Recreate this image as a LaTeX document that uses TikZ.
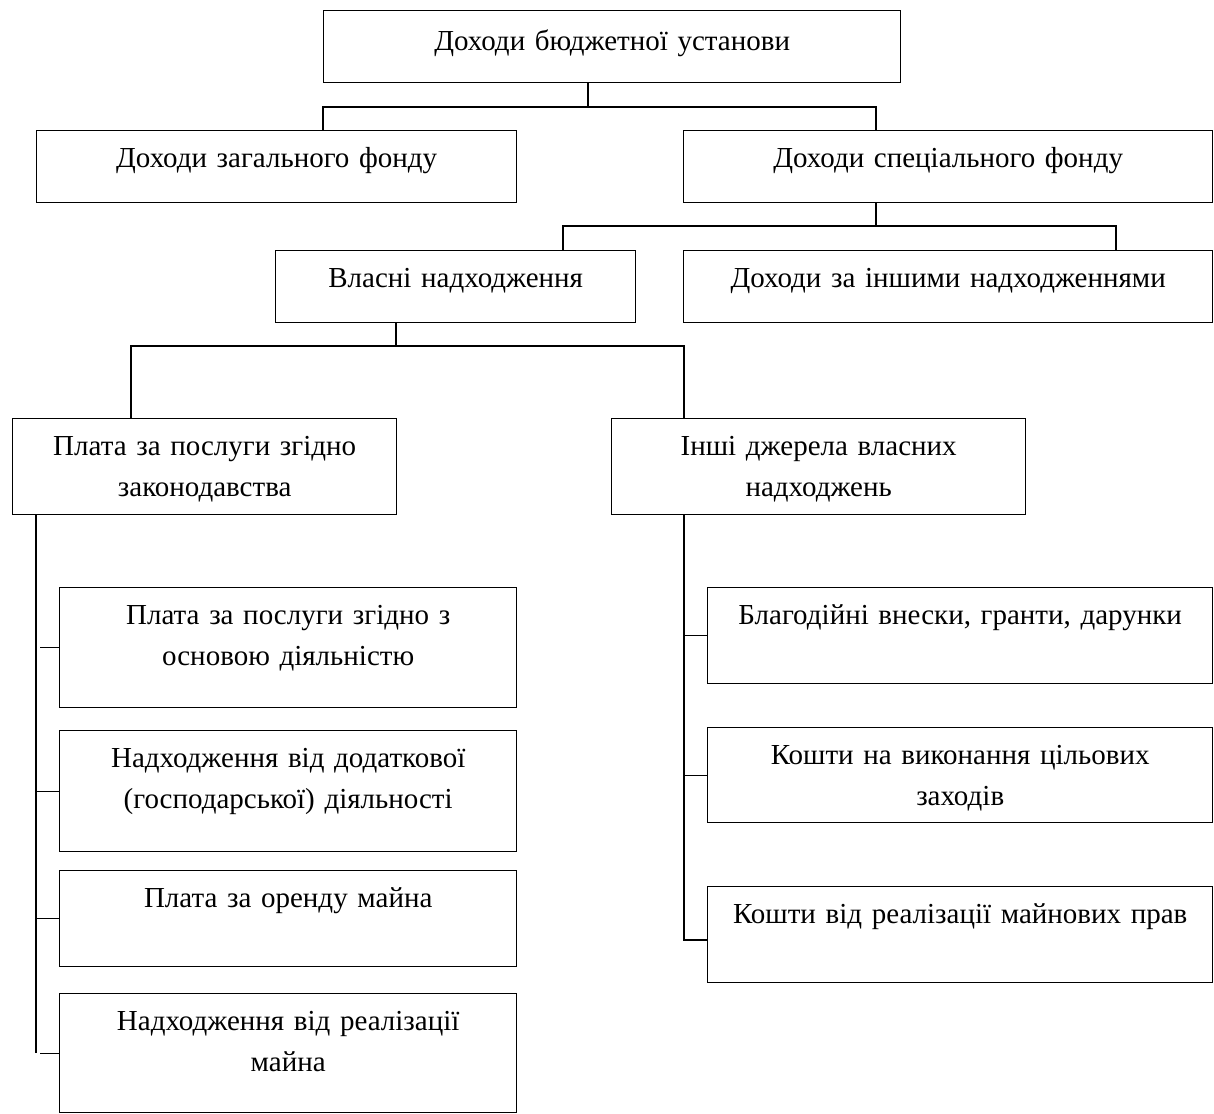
\documentclass[tikz,border=0pt]{standalone}
\usepackage{fontspec}
\setmainfont{Liberation Serif}
\usetikzlibrary{calc}

\begin{document}
\begin{tikzpicture}[x=0.5pt,y=-0.5pt,line width=0.7pt,
        box/.style={rectangle,draw,color=black,inner sep=0pt,align=center,anchor=north west,font=\fontsize{14.5}{20.5}\selectfont},
        fund/.style={box,text height=18.5pt,text depth=17.5pt},
        item/.style={box,text height=18.5pt,text depth=29.5pt},
        itemtwo/.style={box,text height=18.5pt,text depth=41.5pt}]
        \useasboundingbox (0,0) rectangle (1214,1113);
        \begin{scope}

            % Top
            \node[fund,text height=20pt,text depth=16pt,text width=288.5pt] (top) at (323,10) {Доходи бюджетної установи};

            % Funds
            \node[fund,text width=240pt] (zagal) at (36,130) {Доходи загального фонду};
            \node[fund,text width=264.5pt] (spec) at (683,130) {Доходи спеціального фонду};

            \coordinate (k1) at (588,107);
            \draw (k1 |- top.south) -- (k1);
            \draw (top.west |- zagal.north) |- (k1) -| (spec.north -| 876,0);

            % Special fund
            \node[fund,text width=180pt] (vlasni) at (275,250) {Власні надходження};
            \node[fund,text width=264.5pt] (inshi) at (683,250) {Доходи за іншими надходженнями};

            \coordinate (k2) at (876,226);
            \coordinate (k2a) at (563,226);
            \coordinate (k2b) at (1116,226);
            \draw (k2 |- spec.south) -- (k2);
            \draw (k2a |- vlasni.north) -- (k2a) -- (k2b) -- (k2b |- inshi.north);

            % Own revenues
            \node[item,text width=192pt] (plata) at (12,418) {Плата за послуги згідно\\законодавства};
            \node[item,text width=207pt] (dzherela) at (611,418) {Інші джерела власних\\надходжень};

            \coordinate (k3) at (396,346);
            \coordinate (k3a) at (131,346);
            \coordinate (k3b) at (684,346);
            \draw (k3 |- vlasni.south) -- (k3);
            \draw (k3a |- plata.north) -- (k3a) -- (k3b) -- (k3b |- dzherela.north);

            % Fees
            \node[itemtwo,text width=228.5pt] (p1) at (59,587) {Плата за послуги згідно з\\основою діяльністю};
            \node[itemtwo,text width=228.5pt,text depth=42pt] (p2) at (59,730) {Надходження від додаткової\\(господарської) діяльності};
            \node[item,text width=228.5pt] (p3) at (59,870) {Плата за оренду майна};
            \node[itemtwo,text width=228.5pt,text depth=41pt] (p4) at (59,993) {Надходження від реалізації\\майна};

            \coordinate (s1) at (36,1053);
            \draw (s1 |- plata.south) -- (s1);
            \foreach \n/\g in {p1/4,p2/0,p3/0,p4/4}
                \draw ($(s1 |- \n.west)+(\g,0)$) -- (\n.west);

            % Other sources
            \node[item,text width=252.5pt] (r1) at (707,587) {Благодійні внески, гранти, дарунки};
            \node[item,text width=252.5pt,text depth=29pt] (r2) at (707,727) {Кошти на виконання цільових\\заходів};
            \node[item,text width=252.5pt] (r3) at (707,886) {Кошти від реалізації майнових прав};

            \coordinate (s2) at (684,940);
            \draw (s2 |- dzherela.south) -- (s2) -- (s2 -| r3.west);
            \foreach \n in {r1,r2}
                \draw (s2 |- \n.west) -- (\n.west);

        \end{scope}
    \end{tikzpicture}
\end{document}
